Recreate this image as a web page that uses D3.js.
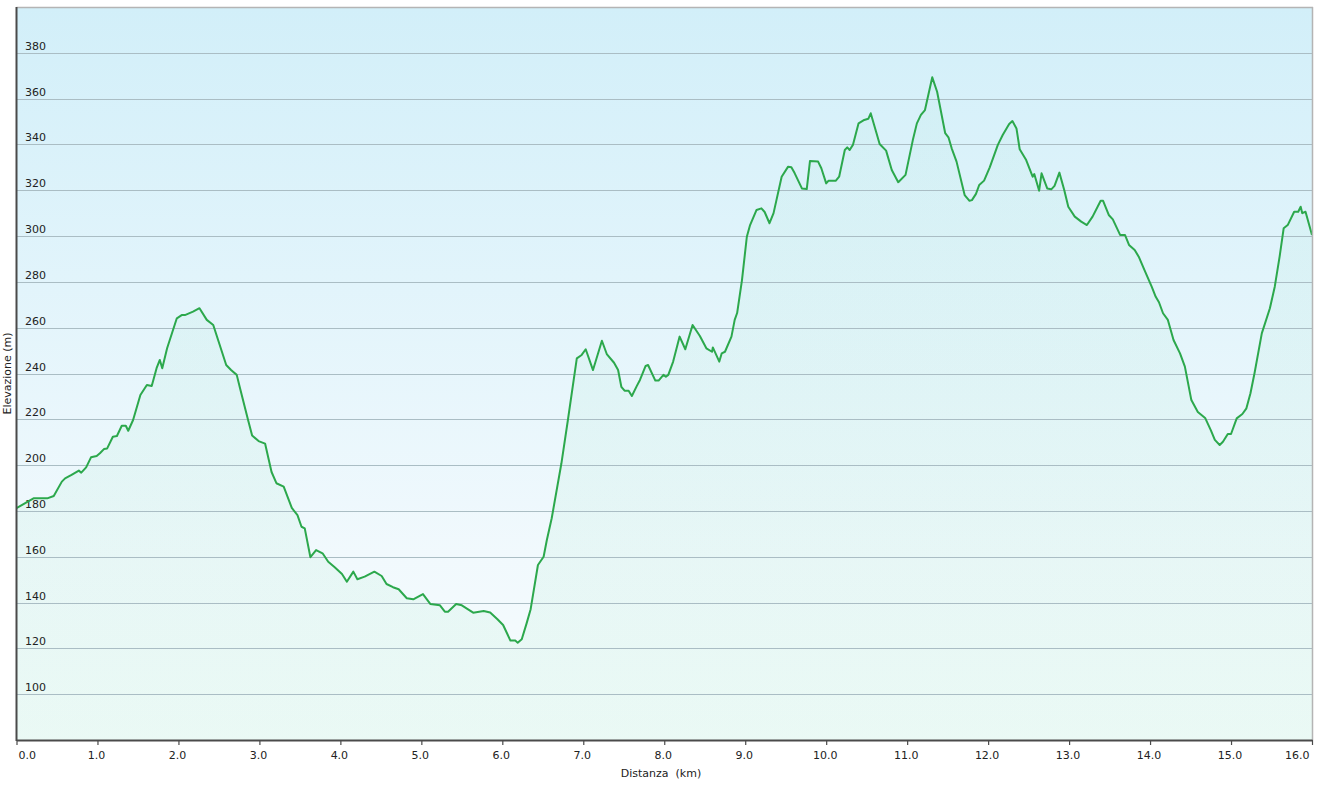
<!DOCTYPE html>
<html>
<head>
<meta charset="utf-8">
<script src="https://cdn.jsdelivr.net/npm/d3@7/dist/d3.min.js"></script>
<style>
  html, body { margin: 0; padding: 0; background: #ffffff; }
  svg { display: block; }
  text { font-family: "DejaVu Sans", Verdana, sans-serif; font-size: 11px; fill: #222; white-space: pre; }
</style>
</head>
<body>
<svg id="chart" width="1320" height="785"></svg>
<script>
// ---- data (distance in km, elevation in m) ----
const distanceKm = [
  0.00,0.21,0.38,0.46,0.56,0.60,0.68,0.77,0.80,0.86,0.92,0.99,1.03,1.08,1.12,1.19,1.24,1.30,1.35,1.38,
  1.44,1.53,1.61,1.67,1.73,1.77,1.80,1.86,1.98,2.04,2.08,2.18,2.26,2.35,2.43,2.49,2.59,2.65,2.72,2.76,
  2.86,2.91,2.99,3.07,3.15,3.21,3.30,3.40,3.47,3.52,3.56,3.63,3.70,3.78,3.85,3.93,4.02,4.08,4.16,4.21,
  4.30,4.42,4.51,4.57,4.65,4.72,4.82,4.90,5.02,5.11,5.23,5.29,5.33,5.43,5.50,5.64,5.77,5.85,5.94,6.01,
  6.10,6.16,6.19,6.24,6.30,6.35,6.44,6.51,6.55,6.61,6.73,6.81,6.92,6.98,7.03,7.12,7.23,7.29,7.38,7.43,
  7.47,7.51,7.56,7.60,7.66,7.70,7.77,7.80,7.89,7.93,7.99,8.02,8.05,8.11,8.19,8.26,8.35,8.44,8.52,8.59,
  8.60,8.68,8.71,8.75,8.83,8.87,8.90,8.96,9.02,9.06,9.14,9.20,9.24,9.30,9.35,9.45,9.53,9.57,9.61,9.70,
  9.76,9.80,9.90,9.94,10.00,10.03,10.12,10.16,10.23,10.26,10.29,10.33,10.40,10.47,10.52,10.55,10.62,10.66,10.74,10.81,
  10.89,10.98,11.07,11.12,11.17,11.22,11.31,11.37,11.47,11.51,11.55,11.61,11.71,11.77,11.80,11.85,11.89,11.95,12.02,12.12,
  12.18,12.26,12.30,12.35,12.39,12.47,12.55,12.57,12.63,12.66,12.73,12.78,12.82,12.88,12.94,12.99,13.07,13.15,13.22,13.29,
  13.39,13.42,13.49,13.54,13.63,13.69,13.74,13.81,13.86,13.93,14.02,14.07,14.11,14.16,14.22,14.29,14.37,14.43,14.51,14.59,
  14.68,14.75,14.80,14.86,14.90,14.96,15.00,15.07,15.14,15.19,15.24,15.29,15.38,15.48,15.54,15.60,15.65,15.70,15.78,15.83,
  15.86,15.88,15.92,16.00
];
const elevationM = [
  181.2,185.5,185.5,186.5,192.8,194.2,195.7,197.6,196.7,199.0,203.4,204.0,205.2,207.0,207.3,212.4,212.7,217.2,217.2,215.0,
  219.7,230.6,235.0,234.5,242.3,245.9,242.3,251.0,264.1,265.5,265.5,267.0,268.5,263.4,261.2,254.6,243.7,241.5,239.4,233.7,
  219.7,212.9,210.5,209.4,197.0,192.1,190.6,181.3,178.2,173.1,172.4,159.8,162.9,161.5,157.8,155.4,152.5,149.1,153.5,150.2,
  151.3,153.5,151.6,148.1,146.7,145.8,141.9,141.4,143.7,139.4,138.8,136.0,136.0,139.4,138.8,135.6,136.3,135.7,132.7,130.2,
  123.4,123.4,122.5,124.0,130.9,137.1,156.4,160.0,167.3,176.8,200.8,219.7,246.6,248.1,250.6,241.5,254.3,248.5,244.7,241.5,
  234.2,232.5,232.5,230.2,234.5,237.2,243.3,243.7,236.9,236.9,239.4,238.6,239.4,245.2,256.1,250.6,261.2,256.4,251.0,249.5,
  251.4,245.2,248.8,249.5,256.1,263.4,266.4,280.8,299.7,304.8,311.4,312.1,310.5,305.6,310.0,325.9,330.3,330.0,327.5,320.8,
  320.5,332.8,332.5,329.6,323.0,324.2,324.2,325.9,337.6,338.7,337.6,339.8,349.2,350.7,351.2,353.6,345.1,340.2,337.3,328.8,
  323.5,326.7,341.9,349.2,352.9,355.0,369.3,363.0,344.9,343.1,338.3,332.5,317.9,315.4,315.7,318.4,322.3,324.2,330.0,339.8,
  344.1,348.9,350.2,347.0,337.9,333.2,325.9,327.1,319.8,327.4,320.8,320.4,321.9,327.7,320.1,312.8,308.5,306.3,304.8,308.5,
  315.4,315.4,309.2,307.3,300.5,300.5,296.1,293.9,291.0,285.2,277.9,273.5,271.1,266.3,263.4,254.6,248.8,243.0,228.4,223.2,
  220.6,215.3,211.0,208.8,210.2,213.6,213.6,220.4,222.3,224.8,231.4,240.1,257.5,268.5,277.9,291.0,303.4,304.8,310.6,310.6,
  312.8,310.0,310.6,300.5
];
const xTickValues = [0,1,2,3,4,5,6,7,8,9,10,11,12,13,14,15,16];
const xTickLabels = ["0.0","1.0","2.0","3.0","4.0","5.0","6.0","7.0","8.0","9.0","10.0","11.0","12.0","13.0","14.0","15.0","16.0"];
const yTickValues = [100,120,140,160,180,200,220,240,260,280,300,320,340,360,380];
const xTitle = "Distanza  (km)";
const yTitle = "Elevazione (m)";

// ---- layout ----
const plotL = 16.5, plotR = 1312, plotT = 7, plotB = 740;
const svg = d3.select("#chart");
const x = d3.scaleLinear().domain([0, 16]).range([plotL, plotR]);
const y = d3.scaleLinear().domain([80, 400]).range([plotB, plotT]);

const defs = svg.append("defs");
const bg = defs.append("linearGradient").attr("id","bg").attr("x1",0).attr("y1",0).attr("x2",0).attr("y2",1);
bg.append("stop").attr("offset","0%").attr("stop-color","#d2eff9");
bg.append("stop").attr("offset","75%").attr("stop-color","#f1f9fd");
bg.append("stop").attr("offset","100%").attr("stop-color","#f6fcfd");
const ag = defs.append("linearGradient").attr("id","ag").attr("gradientUnits","userSpaceOnUse")
  .attr("x1",0).attr("y1",plotT).attr("x2",0).attr("y2",plotB);
ag.append("stop").attr("offset","0%").attr("stop-color","#3cc878").attr("stop-opacity",0.025);
ag.append("stop").attr("offset","100%").attr("stop-color","#3cd27a").attr("stop-opacity",0.065);

svg.append("rect").attr("x",plotL).attr("y",plotT).attr("width",plotR-plotL).attr("height",plotB-plotT)
  .attr("fill","url(#bg)");

const pts = distanceKm.map((d,i)=>({d, e: elevationM[i]}));

// area
svg.append("path").datum(pts)
  .attr("fill","url(#ag)")
  .attr("d", d3.area().x(p=>x(p.d)).y0(y(80)).y1(p=>y(p.e)));

// gridlines
svg.append("g").selectAll("line").data(yTickValues).join("line")
  .attr("x1",plotL).attr("x2",plotR)
  .attr("y1",d=>Math.round(y(d))+0.5).attr("y2",d=>Math.round(y(d))+0.5)
  .attr("stroke","#aabdc4").attr("stroke-width",1);

// y tick labels (inside plot)
svg.append("g").selectAll("text").data(yTickValues).join("text")
  .attr("x",25).attr("y",d=>Math.round(y(d))-3)
  .text(d=>String(d));

// line
svg.append("path").datum(pts)
  .attr("fill","none").attr("stroke","#2ca84c").attr("stroke-width",2)
  .attr("stroke-linejoin","round")
  .attr("d", d3.line().x(p=>x(p.d)).y(p=>y(p.e)));

// borders
svg.append("line").attr("x1",plotL).attr("x2",plotR+1).attr("y1",plotT+0.5).attr("y2",plotT+0.5)
  .attr("stroke","#b4b4b4").attr("stroke-width",1.5);
svg.append("line").attr("x1",plotR+0.5).attr("x2",plotR+0.5).attr("y1",plotT).attr("y2",plotB)
  .attr("stroke","#b4b4b4").attr("stroke-width",1.5);

// x axis
const xAxis = d3.axisBottom(x).tickValues(xTickValues)
  .tickFormat((d,i)=>xTickLabels[i]).tickSize(5).tickPadding(6).tickSizeOuter(0);
const gx = svg.append("g").attr("transform",`translate(0,${plotB})`).call(xAxis);
gx.attr("font-family",null).attr("font-size",null);
gx.select(".domain").attr("stroke","#4a4a4a").attr("stroke-width",2);
gx.selectAll(".tick line").attr("stroke","#4a4a4a").attr("stroke-width",1.2);
gx.selectAll(".tick text").attr("fill","#222")
  .each(function(d){
    const w = this.getComputedTextLength();
    const cx = x(d) - 1.5;
    let shift = 0;
    if (cx - w/2 < plotL + 1.5) shift = (plotL + 1.5) - (cx - w/2);
    if (cx + w/2 > plotR - 3) shift = (plotR - 3) - (cx + w/2);
    d3.select(this).attr("dx", -1.5 + shift);
  });

// left axis line
svg.append("line").attr("x1",plotL).attr("x2",plotL).attr("y1",plotT).attr("y2",plotB+1)
  .attr("stroke","#4a4a4a").attr("stroke-width",2);

// titles
svg.append("text").attr("x",661).attr("y",777).attr("text-anchor","middle")
  .attr("xml:space","preserve").text(xTitle);
svg.append("text").attr("transform",`translate(11,${(plotT+plotB)/2}) rotate(-90)`)
  .attr("text-anchor","middle").text(yTitle);
</script>
</body>
</html>
